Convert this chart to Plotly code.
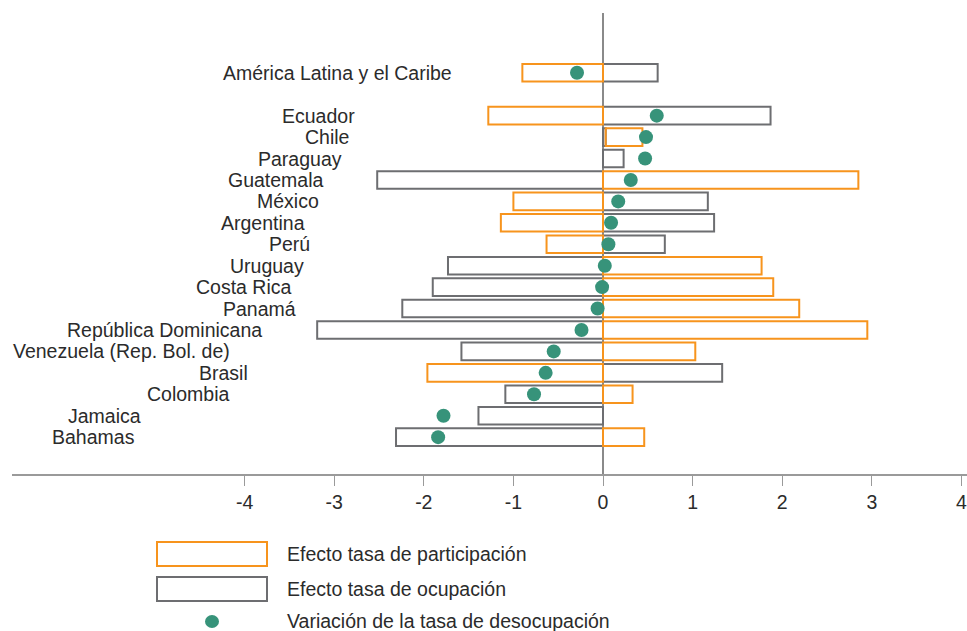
import plotly.graph_objects as go

# categories (a blank " " row separates the regional aggregate from the countries)
paises = ["América Latina y el Caribe", " ", "Ecuador", "Chile", "Paraguay", "Guatemala",
          "México", "Argentina", "Perú", "Uruguay", "Costa Rica", "Panamá",
          "República Dominicana", "Venezuela (Rep. Bol. de)", "Brasil", "Colombia",
          "Jamaica", "Bahamas"]

# efecto tasa de participación (orange)
participacion = [-0.90, None, -1.28, 0.41, None, 2.85, -1.00, -1.14, -0.63, 1.77, 1.90,
                 2.19, 2.95, 1.03, -1.96, 0.33, None, 0.46]
# efecto tasa de ocupación (gray)
ocupacion = [0.61, None, 1.87, 0.03, 0.23, -2.52, 1.17, 1.24, 0.69, -1.73, -1.90,
             -2.24, -3.19, -1.58, 1.33, -1.09, -1.39, -2.31]
# variación de la tasa de desocupación (green dots)
desocupacion = [-0.29, None, 0.60, 0.48, 0.47, 0.31, 0.17, 0.09, 0.06, 0.02, -0.01,
                -0.06, -0.24, -0.55, -0.64, -0.77, -1.78, -1.84]

tick_vals = [-4, -3, -2, -1, 0, 1, 2, 3, 4]

NARANJA = "#F7941D"
GRIS = "#6D6E71"
VERDE = "#37937A"
TEXTO = "#2b2b2b"
FONT = "Liberation Sans"
FS = 19.5

# plot area in pixels
L, R, T, B = 12, 967, 13, 474
W, H = 967, 631


def px(x):
    return (x - L) / (R - L)


def py(y):
    return (B - y) / (B - T)


fig = go.Figure()
fig.add_trace(go.Bar(
    y=paises, x=ocupacion, orientation="h", width=0.82,
    marker=dict(color="rgba(255,255,255,0)", line=dict(color=GRIS, width=2)),
    name="Efecto tasa de ocupación"))
fig.add_trace(go.Bar(
    y=paises, x=participacion, orientation="h", width=0.82,
    marker=dict(color="rgba(255,255,255,0)", line=dict(color=NARANJA, width=2)),
    name="Efecto tasa de participación"))
fig.add_trace(go.Scatter(
    y=paises, x=desocupacion, mode="markers",
    marker=dict(color=VERDE, size=14),
    name="Variación de la tasa de desocupación"))

# country labels, right edge in pixels (staggered as in the original)
label_right = [454, None, 357, 351, 344, 326, 321, 307, 312, 306, 294, 298, 264, 232,
               250, 232, 143, 137]
for p, xr in zip(paises, label_right):
    if xr is None:
        continue
    fig.add_annotation(x=px(xr), xref="paper", y=p, yref="y", text=p,
                       showarrow=False, xanchor="right", yanchor="middle",
                       font=dict(family=FONT, size=FS, color=TEXTO))

# custom legend
shapes = []
shapes.append(dict(type="rect", xref="paper", yref="paper",
                   x0=px(157), x1=px(267), y0=py(542), y1=py(566),
                   line=dict(color=NARANJA, width=2), fillcolor="white"))
shapes.append(dict(type="rect", xref="paper", yref="paper",
                   x0=px(157), x1=px(267), y0=py(577), y1=py(601),
                   line=dict(color=GRIS, width=2), fillcolor="white"))
shapes.append(dict(type="circle", xref="paper", yref="paper",
                   x0=px(205), x1=px(219), y0=py(615), y1=py(628),
                   line=dict(color=VERDE, width=0), fillcolor=VERDE))
legend_text = ["Efecto tasa de participación", "Efecto tasa de ocupación",
               "Variación de la tasa de desocupación"]
for t, yy in zip(legend_text, [554, 589, 621]):
    fig.add_annotation(x=px(285), xref="paper", y=py(yy), yref="paper", text=t,
                       showarrow=False, xanchor="left", yanchor="middle",
                       font=dict(family=FONT, size=FS, color=TEXTO))

zero = 603
scale = 89.6
fig.update_layout(
    width=W, height=H,
    margin=dict(l=L, r=W - R, t=T, b=H - B),
    barmode="relative",
    showlegend=False,
    plot_bgcolor="white", paper_bgcolor="white",
    shapes=shapes,
    font=dict(family=FONT, size=FS, color=TEXTO),
    xaxis=dict(range=[(L - zero) / scale, (R - zero) / scale],
               tickvals=tick_vals, ticktext=[str(v) for v in tick_vals],
               showgrid=False, zeroline=True, zerolinecolor="#8a8a8a", zerolinewidth=1.5,
               showline=True, linecolor="#9a9a9a", linewidth=1.5,
               ticks="outside", ticklen=10, tickcolor="#9a9a9a", tickwidth=1.2,
               tickfont=dict(family=FONT, size=FS, color=TEXTO)),
    yaxis=dict(type="category", categoryarray=paises,
               range=[18.72, -2.79], showticklabels=False, showgrid=False,
               zeroline=False, showline=False),
)

fig.write_html("out.html", config={"displayModeBar": False},
               post_script="document.body.style.margin='0';")
